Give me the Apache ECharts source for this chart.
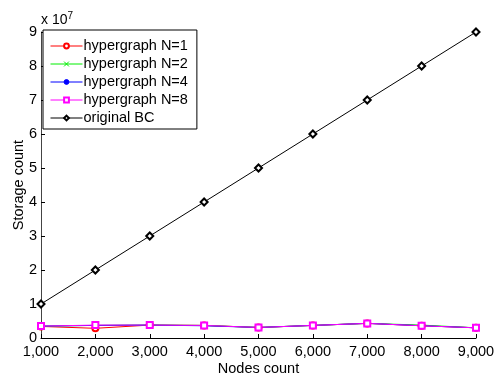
<!DOCTYPE html>
<html><head><meta charset="utf-8">
<script src="https://cdn.jsdelivr.net/npm/echarts@6/dist/echarts.min.js"></script>
<style>html,body{margin:0;padding:0;background:#fff}#c{width:496px;height:377px}</style>
</head><body><div id="c"></div>
<script>
const nodes = [1000, 2000, 3000, 4000, 5000, 6000, 7000, 8000, 9000];
const hyperN1 = [3.4e6, 2.85e6, 3.8e6, 3.7e6, 3.1e6, 3.7e6, 4.3e6, 3.6e6, 3.0e6];
const hyperN2 = [3.5e6, 3.7e6, 3.8e6, 3.7e6, 3.1e6, 3.7e6, 4.3e6, 3.8e6, 3.0e6];
const hyperN4 = [3.5e6, 3.7e6, 3.8e6, 3.6e6, 3.1e6, 3.7e6, 4.3e6, 3.6e6, 3.0e6];
const hyperN8 = [3.5e6, 3.8e6, 3.8e6, 3.7e6, 3.1e6, 3.7e6, 4.3e6, 3.6e6, 3.0e6];
const originalBC = [1e7, 2e7, 3e7, 4e7, 5e7, 6e7, 7e7, 8e7, 9e7];
const seriesNames = ['hypergraph N=1', 'hypergraph N=2', 'hypergraph N=4', 'hypergraph N=8', 'original BC'];
const yTicks = ['0','1','2','3','4','5','6','7','8','9'];

const FONT = 'Liberation Sans, Arial, sans-serif';
const pair = arr => nodes.map((x, i) => [x, arr[i]]);
const chart = echarts.init(document.getElementById('c'), null, {renderer: 'canvas'});
const mk = (name, data, color, symbol, size) => ({
  name, type: 'line', data: pair(data), symbol, symbolSize: size,
  lineStyle: {color, width: 1}, itemStyle: {color, borderColor: color, borderWidth: 1},
  emphasis: {disabled: true},
  showAllSymbol: true, animation: false, z: 3
});
chart.setOption({
  animation: false,
  textStyle: {fontFamily: FONT},
  grid: {left: 41, right: 20, top: 32, bottom: 39, containLabel: false, outerBoundsMode: 'none'},
  xAxis: {
    type: 'value', min: 1000, max: 9000, interval: 1000,
    name: 'Nodes count', nameLocation: 'middle', nameGap: 23, nameMoveOverlap: false,
    nameTextStyle: {fontSize: 14.5, color: '#000', fontFamily: FONT},
    axisLine: {lineStyle: {color: '#000', width: 1}},
    axisTick: {inside: true, length: 4, lineStyle: {color: '#000'}},
    axisLabel: {fontSize: 14.5, color: '#000', fontFamily: FONT, margin: 6,
      formatter: v => v.toLocaleString('en-US')},
    splitLine: {show: false}
  },
  yAxis: {
    type: 'value', min: 0, max: 9e7, interval: 1e7,
    name: 'Storage count', nameLocation: 'middle', nameGap: 15, nameRotate: 90, nameMoveOverlap: false,
    nameTextStyle: {fontSize: 14.5, color: '#000', fontFamily: FONT},
    axisLine: {show: true, lineStyle: {color: '#444', width: 1}},
    axisTick: {show: true, inside: true, length: 4, lineStyle: {color: '#000'}},
    axisLabel: {fontSize: 14.5, color: '#000', fontFamily: FONT, margin: 4,
      formatter: v => yTicks[Math.round(v / 1e7)]},
    splitLine: {show: false}
  },
  legend: {
    left: 43, top: 30, orient: 'vertical', itemGap: 0, itemWidth: 32, itemHeight: 6,
    padding: [7, 9, 2, 7],
    backgroundColor: '#fff', borderColor: '#000', borderWidth: 1,
    lineStyle: {width: 1},
    itemStyle: {borderWidth: 1},
    textStyle: {fontSize: 14.5, lineHeight: 18, color: '#000', fontFamily: FONT, padding: [0, 0, 0, -4]},
    data: seriesNames
  },
  graphic: [{
    type: 'text', left: 41, top: 11,
    style: {rich: {a: {fontSize: 14, fontFamily: FONT, fill: '#000'}, s: {fontSize: 10, fontFamily: FONT, fill: '#000', verticalAlign: 'top', padding: [0,0,8,0]}},
      text: '{a|x 10}{s|7}'}
  }],
  series: [
    mk(seriesNames[0], hyperN1, '#ff0000', 'emptyCircle', 6),
    mk(seriesNames[1], hyperN2, '#00ee00', 'path://M0,0L10,10M10,0L0,10', 4),
    mk(seriesNames[2], hyperN4, '#0000ff', 'circle', 2),
    mk(seriesNames[3], hyperN8, '#ff00ff', 'emptyRect', 6),
    mk(seriesNames[4], originalBC, '#000000', 'emptyDiamond', 7)
  ]
});
</script></body></html>
